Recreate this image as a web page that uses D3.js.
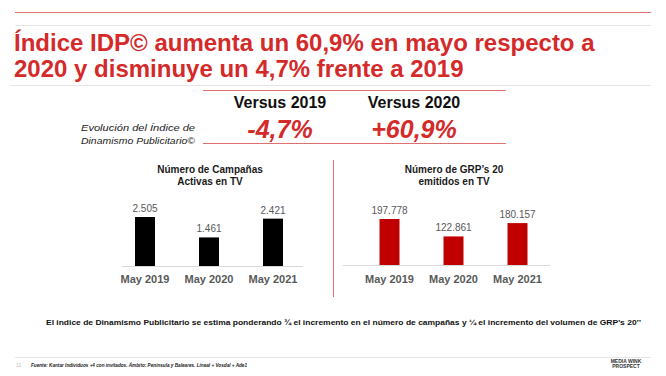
<!DOCTYPE html>
<meta charset="utf-8">
<style>
    body { margin: 0; background: #fff; }
    svg { font-family: "Liberation Sans", Arial, sans-serif; }
    .rule-red { stroke: #e07070; stroke-width: 1; }
    .rule-grey { stroke: #e6e6e6; stroke-width: 1; }
    .axis-line { stroke: #d9d9d9; stroke-width: 1; }
</style>
<svg width="666" height="376"></svg>
<script src="https://d3js.org/d3.v7.min.js"></script>
<script>

    var titleLines = ["Índice IDP© aumenta un 60,9% en mayo respecto a",
        "2020 y disminuye un 4,7% frente a 2019"];

    var versusLabels = ["Versus 2019", "Versus 2020"];
    var versusValues = ["-4,7%", "+60,9%"];
    var evolLines = ["Evolución del Índice de", "Dinamismo Publicitario©"];

    var categories = ["May 2019", "May 2020", "May 2021"];
    var campaigns = [2505, 1461, 2421];
    var grps = [197778, 122861, 180157];

    var campaignTitle = ["Número de Campañas", "Activas en TV"];
    var grpTitle = ["Número de GRP’s 20", "emitidos en TV"];

    var note = "El indice de Dinamismo  Publicitario se estima ponderando ¾ el incremento en el número de campañas  y ¼ el incremento del volumen de GRP’s 20’’";
    var source = "Fuente: Kantar Individuos +4 con invitados. Ámbito: Península y Baleares. Lineal + Vosdal + Ade1";

    var es = d3.formatLocale({ decimal: ",", thousands: ".", grouping: [3], currency: ["", "€"] });
    var fmt = es.format(",");

    var red = "#d42a2a";
    var svg = d3.select("svg");

    // header rules
    svg.append("line").attr("class", "rule-red").attr("x1", 15).attr("x2", 651).attr("y1", 12.5).attr("y2", 12.5);
    svg.append("line").attr("class", "rule-grey").attr("x1", 15).attr("x2", 651).attr("y1", 25.5).attr("y2", 25.5);
    svg.append("line").attr("class", "rule-grey").attr("x1", 10).attr("x2", 651).attr("y1", 85.5).attr("y2", 85.5);

    svg.append("g").selectAll("text")
        .data(titleLines)
        .enter().append("text")
        .attr("x", 14)
        .attr("y", function (d, i) { return 51 + i * 26; })
        .attr("fill", red)
        .style("font-size", "24px")
        .style("font-weight", "bold")
        .text(function (d) { return d; });

    // versus block
    svg.append("line").attr("class", "rule-red").attr("x1", 203).attr("x2", 506).attr("y1", 90.5).attr("y2", 90.5);
    svg.append("line").attr("class", "rule-red").attr("x1", 203).attr("x2", 506).attr("y1", 143.5).attr("y2", 143.5);

    var vx = d3.scalePoint().domain(versusLabels).range([280, 414]);

    svg.append("g").selectAll("text")
        .data(versusLabels)
        .enter().append("text")
        .attr("x", function (d) { return vx(d); })
        .attr("y", 108)
        .attr("text-anchor", "middle")
        .attr("fill", "#111")
        .style("font-size", "16px")
        .style("font-weight", "bold")
        .text(function (d) { return d; });

    svg.append("g").selectAll("text")
        .data(versusValues)
        .enter().append("text")
        .attr("x", function (d, i) { return vx(versusLabels[i]); })
        .attr("y", 138)
        .attr("text-anchor", "middle")
        .attr("fill", red)
        .style("font-size", "25px")
        .style("font-weight", "bold")
        .style("font-style", "italic")
        .text(function (d) { return d; });

    svg.append("g").selectAll("text")
        .data(evolLines)
        .enter().append("text")
        .attr("x", 81)
        .attr("y", function (d, i) { return 131 + i * 13; })
        .attr("textLength", 114)
        .attr("lengthAdjust", "spacingAndGlyphs")
        .attr("fill", "#222")
        .style("font-size", "9px")
        .style("font-style", "italic")
        .text(function (d) { return d; });

    // divider between charts
    svg.append("line").attr("class", "rule-red").attr("x1", 333.5).attr("x2", 333.5).attr("y1", 160).attr("y2", 297);

    function barChart(opts) {
        var g = svg.append("g");
        var x = d3.scalePoint().domain(categories).range(opts.xRange).padding(0.5);
        var y = d3.scaleLinear().domain([0, d3.max(opts.values)]).range([opts.base, opts.top]);

        g.selectAll(".title")
            .data(opts.title)
            .enter().append("text")
            .attr("x", opts.titleX)
            .attr("y", function (d, i) { return 173 + i * 12; })
            .attr("text-anchor", "middle")
            .attr("fill", "#1a1a1a")
            .style("font-size", "10px")
            .style("font-weight", "bold")
            .text(function (d) { return d; });

        g.append("line")
            .attr("class", "axis-line")
            .attr("x1", opts.axis[0]).attr("x2", opts.axis[1])
            .attr("y1", opts.base + 0.5).attr("y2", opts.base + 0.5);

        g.selectAll("rect")
            .data(opts.values)
            .enter().append("rect")
            .attr("x", function (d, i) { return x(categories[i]) - 10; })
            .attr("width", 20)
            .attr("y", function (d) { return y(d); })
            .attr("height", function (d) { return opts.base - y(d); })
            .attr("fill", opts.color);

        g.selectAll(".val")
            .data(opts.values)
            .enter().append("text")
            .attr("x", function (d, i) { return x(categories[i]); })
            .attr("y", function (d) { return y(d) - 5; })
            .attr("text-anchor", "middle")
            .attr("fill", "#595959")
            .style("font-size", "10px")
            .text(function (d) { return fmt(d); });

        g.selectAll(".cat")
            .data(categories)
            .enter().append("text")
            .attr("x", function (d) { return x(d); })
            .attr("y", 283)
            .attr("text-anchor", "middle")
            .attr("fill", "#595959")
            .style("font-size", "11px")
            .style("font-weight", "bold")
            .text(function (d) { return d; });
    }

    barChart({ values: campaigns, title: campaignTitle, titleX: 210, xRange: [113, 305],
        base: 266, top: 217, axis: [122, 303], color: "#000" });
    barChart({ values: grps, title: grpTitle, titleX: 454, xRange: [357.5, 549.5],
        base: 265, top: 219, axis: [343, 550], color: "#c00000" });

    // note
    svg.append("text")
        .attr("x", 46)
        .attr("y", 325)
        .attr("textLength", 595)
        .attr("lengthAdjust", "spacingAndGlyphs")
        .attr("fill", "#111")
        .style("font-size", "8px")
        .style("font-weight", "bold")
        .text(note);

    // footer
    svg.append("line").attr("class", "rule-grey").attr("x1", 15).attr("x2", 651).attr("y1", 357.5).attr("y2", 357.5);
    svg.append("text").attr("x", 16).attr("y", 367).attr("fill", "#bbb").style("font-size", "5px").text("11");
    svg.append("text")
        .attr("x", 31)
        .attr("y", 367)
        .attr("textLength", 216)
        .attr("lengthAdjust", "spacingAndGlyphs")
        .attr("fill", "#222")
        .style("font-size", "5px")
        .style("font-weight", "bold")
        .style("font-style", "italic")
        .text(source);
    svg.append("text").attr("x", 626).attr("y", 363).attr("text-anchor", "middle").attr("fill", "#333")
        .style("font-size", "5px").style("font-weight", "bold").text("MEDIA WINK");
    svg.append("text").attr("x", 626).attr("y", 368).attr("text-anchor", "middle").attr("fill", "#333")
        .style("font-size", "5px").style("font-weight", "bold").text("PROSPECT");

</script>
